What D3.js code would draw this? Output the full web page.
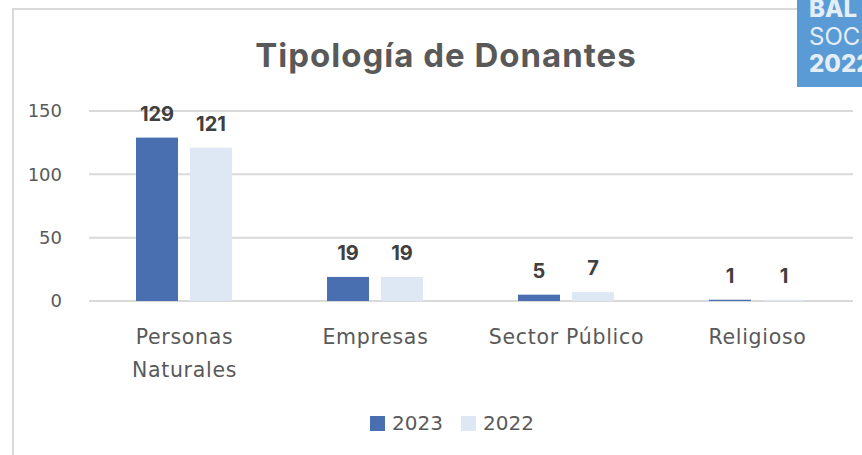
<!DOCTYPE html>
<html><head><meta charset="utf-8">
<script src="https://cdn.jsdelivr.net/npm/d3@7"></script>
<style>body{margin:0;background:#fff}svg{display:block}</style>
</head><body>
<svg id="c" width="862" height="455"></svg>
<script>
const categories = [["Personas","Naturales"],["Empresas"],["Sector Público"],["Religioso"]];
const seriesNames = ["2023","2022"];
const values2023 = [129, 19, 5, 1];
const values2022 = [121, 19, 7, 1];
const yTicks = [0, 50, 100, 150];
const colors = ["#4a6fb0", "#dde8f4"];

const svg = d3.select("#c");
// frame
svg.append("line").attr("x1",13).attr("x2",13).attr("y1",9).attr("y2",455).attr("stroke","#d9d9d9").attr("stroke-width",2);
svg.append("line").attr("x1",12).attr("x2",800).attr("y1",9).attr("y2",9).attr("stroke","#d9d9d9").attr("stroke-width",2);
// blue tag
svg.append("rect").attr("x",797).attr("y",0).attr("width",65).attr("height",87).attr("fill","#5b9bd5");
const tag = svg.append("g").attr("font-family","Inter, Lato, sans-serif").attr("fill","#e4eef8");
tag.append("text").attr("x",809).attr("y",17).attr("font-size",24).attr("font-weight","800").text("BAL");
tag.append("text").attr("x",809).attr("y",45).attr("font-size",24).attr("font-weight","400").text("SOC");
tag.append("text").attr("x",809).attr("y",72).attr("font-size",24).attr("font-weight","800").text("2022");

// title
svg.append("text").attr("x",446).attr("y",67).attr("text-anchor","middle")
  .attr("font-family","Inter, Lato, sans-serif").attr("font-weight","700").attr("font-size",33)
  .attr("letter-spacing",1).attr("fill","#595959").text("Tipología de Donantes");

const x0 = d3.scaleBand().domain(d3.range(categories.length)).range([89, 853]);
const y = d3.scaleLinear().domain([0,150]).range([301, 111]);

// gridlines
svg.append("g").selectAll("line").data(yTicks).join("line")
  .attr("x1",89).attr("x2",853).attr("y1",d=>y(d)).attr("y2",d=>y(d))
  .attr("stroke","#d9d9d9").attr("stroke-width",2);

// y axis
const yAxis = svg.append("g").attr("transform","translate(62,0)")
  .call(d3.axisLeft(y).tickValues(yTicks).tickSize(0).tickPadding(0));
yAxis.select(".domain").remove();
yAxis.selectAll("text").attr("font-family","'DejaVu Sans', sans-serif").attr("font-size",18).attr("fill","#595959");

const barW = 42, gap = 12;
const data = categories.map((c,i)=>({i, vals:[values2023[i], values2022[i]]}));
const g = svg.append("g");
data.forEach(d=>{
  const cx = x0(d.i) + x0.bandwidth()/2 - 0.5;
  d.vals.forEach((v,k)=>{
    const bx = cx - (barW*2+gap)/2 + k*(barW+gap);
    g.append("rect").attr("x",bx).attr("y",y(v)).attr("width",barW).attr("height",y(0)-y(v)).attr("fill",colors[k]);
    g.append("text").attr("x",bx+barW/2).attr("y",y(v)-17).attr("text-anchor","middle")
      .attr("font-family","Inter, Lato, sans-serif").attr("font-weight","700").attr("font-size",20)
      .attr("fill","#404040").text(v);
  });
});

// category labels
const xl = svg.append("g");
categories.forEach((lines,i)=>{
  const cx = x0(i) + x0.bandwidth()/2;
  const t = xl.append("text").attr("text-anchor","middle").attr("font-family","'DejaVu Sans', sans-serif")
    .attr("font-size",20.5).attr("letter-spacing",0.7).attr("fill","#595959");
  lines.forEach((ln,j)=>t.append("tspan").attr("x",cx).attr("y",344+j*33).text(ln));
});

// legend
const leg = svg.append("g");
const legX = [370, 461];
seriesNames.forEach((s,k)=>{
  leg.append("rect").attr("x",legX[k]).attr("y",416).attr("width",15).attr("height",15).attr("fill",colors[k]);
  leg.append("text").attr("x",legX[k]+22).attr("y",430).attr("font-family","'DejaVu Sans', sans-serif")
    .attr("font-size",20).attr("fill","#595959").text(s);
});
</script>
</body></html>
